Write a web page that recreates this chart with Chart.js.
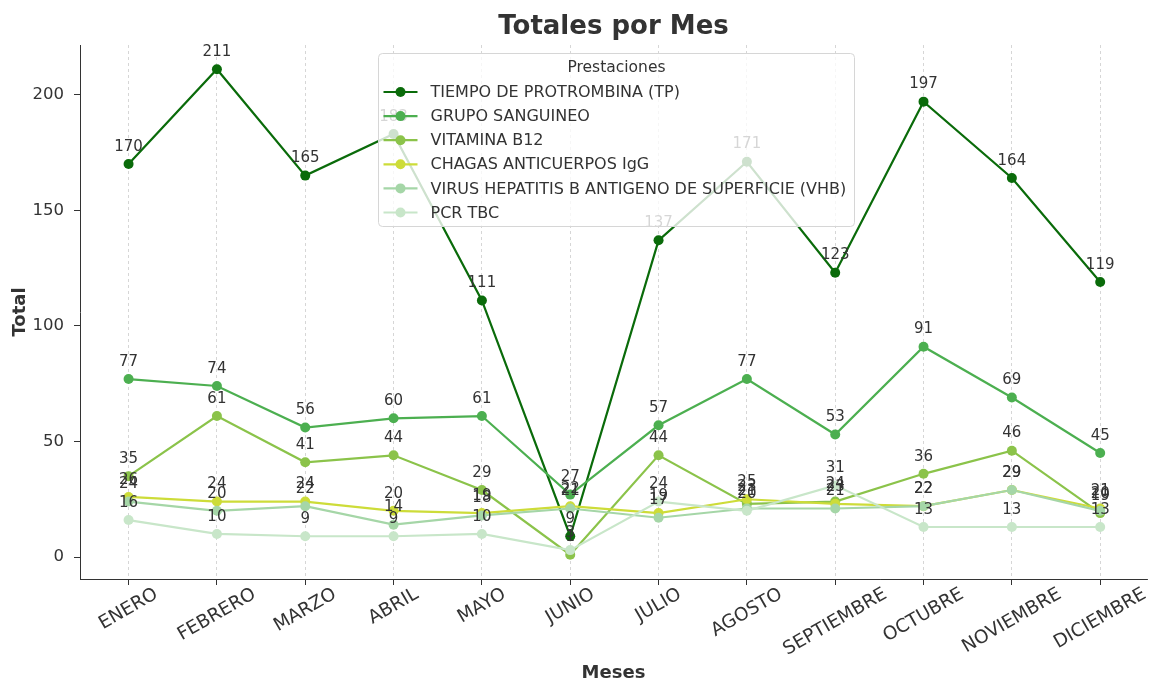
<!DOCTYPE html>
<html>
<head>
<meta charset="utf-8">
<script src="https://cdn.jsdelivr.net/npm/chart.js@4.4.1/dist/chart.umd.min.js"></script>
<style>
  html, body { margin: 0; padding: 0; background: #ffffff; }
  #wrap { width: 1152px; height: 684px; }
</style>
</head>
<body>
<div id="wrap"><canvas id="chart" width="1152" height="684"></canvas></div>
<script>
// Monthly totals per lab test
const meses = ['ENERO', 'FEBRERO', 'MARZO', 'ABRIL', 'MAYO', 'JUNIO', 'JULIO',
               'AGOSTO', 'SEPTIEMBRE', 'OCTUBRE', 'NOVIEMBRE', 'DICIEMBRE'];
const tiempoProtrombina = [170, 211, 165, 183, 111, 9, 137, 171, 123, 197, 164, 119];
const grupoSanguineo    = [77, 74, 56, 60, 61, 27, 57, 77, 53, 91, 69, 45];
const vitaminaB12       = [35, 61, 41, 44, 29, 1, 44, 23, 24, 36, 46, 19];
const chagasIgG         = [26, 24, 24, 20, 19, 22, 19, 25, 23, 22, 29, 21];
const hepatitisB        = [24, 20, 22, 14, 18, 21, 17, 21, 21, 22, 29, 20];
const pcrTbc            = [16, 10, 9, 9, 10, 3, 24, 20, 31, 13, 13, 13];
const yTicks = [0, 50, 100, 150, 200];

const seriesNames = ['TIEMPO DE PROTROMBINA (TP)', 'GRUPO SANGUINEO', 'VITAMINA B12',
                     'CHAGAS ANTICUERPOS IgG', 'VIRUS HEPATITIS B ANTIGENO DE SUPERFICIE (VHB)', 'PCR TBC'];
const seriesValues = [tiempoProtrombina, grupoSanguineo, vitaminaB12, chagasIgG, hepatitisB, pcrTbc];
const seriesColors = ['#0a6b0a', '#4caf50', '#8bc34a', '#cddc39', '#a5d6a7', '#c8e6c9'];

const FONT = 'DejaVu Sans';
const TEXT = '#333333';

// Title over the plot, value labels, rotated month labels and the legend box on top
const overlay = {
  id: 'overlay',
  afterDatasetsDraw(chart) {
    const ctx = chart.ctx;
    const area = chart.chartArea;
    const cx = (area.left + area.right) / 2;

    ctx.save();
    ctx.font = 'bold 26px "' + FONT + '"';
    ctx.fillStyle = TEXT;
    ctx.textAlign = 'center';
    ctx.textBaseline = 'middle';
    ctx.fillText('Totales por Mes', cx, 27);
    ctx.restore();

    ctx.save();
    ctx.font = '15px "' + FONT + '"';
    ctx.fillStyle = TEXT;
    ctx.textAlign = 'center';
    ctx.textBaseline = 'alphabetic';
    seriesValues.forEach((vals, i) => {
      const meta = chart.getDatasetMeta(i);
      meta.data.forEach((pt, j) => {
        ctx.fillText(String(vals[j]), pt.x, pt.y - 13.3);
      });
    });
    ctx.restore();

    // rotated month labels, centred under each tick
    const xs = chart.scales.x;
    ctx.save();
    ctx.font = '18.5px "' + FONT + '"';
    ctx.fillStyle = TEXT;
    ctx.textAlign = 'center';
    ctx.textBaseline = 'middle';
    const ang = Math.PI / 6;
    const h = 16;
    meses.forEach((m, i) => {
      const w = ctx.measureText(m).width;
      const boxH = w * Math.sin(ang) + h * Math.cos(ang);
      const top = xs.top + 7;
      ctx.save();
      ctx.translate(xs.getPixelForValue(i), top + boxH / 2);
      ctx.rotate(-ang);
      ctx.fillText(m, 0, 0);
      ctx.restore();
    });
    ctx.restore();

    // legend
    ctx.save();
    const boxW = 476;
    const boxH = 173;
    const bx = Math.round(cx - 236) + 0.5;
    const by = area.top + 8.5;
    const r = 4;
    ctx.beginPath();
    ctx.moveTo(bx + r, by);
    ctx.lineTo(bx + boxW - r, by);
    ctx.quadraticCurveTo(bx + boxW, by, bx + boxW, by + r);
    ctx.lineTo(bx + boxW, by + boxH - r);
    ctx.quadraticCurveTo(bx + boxW, by + boxH, bx + boxW - r, by + boxH);
    ctx.lineTo(bx + r, by + boxH);
    ctx.quadraticCurveTo(bx, by + boxH, bx, by + boxH - r);
    ctx.lineTo(bx, by + r);
    ctx.quadraticCurveTo(bx, by, bx + r, by);
    ctx.closePath();
    ctx.fillStyle = 'rgba(255,255,255,0.8)';
    ctx.fill();
    ctx.strokeStyle = '#d6d6d6';
    ctx.lineWidth = 1;
    ctx.stroke();

    ctx.fillStyle = TEXT;
    ctx.textBaseline = 'middle';
    ctx.textAlign = 'center';
    ctx.font = '15.5px "' + FONT + '"';
    ctx.fillText('Prestaciones', bx + boxW / 2, by + 14);
    ctx.textAlign = 'left';
    ctx.font = '16px "' + FONT + '"';
    seriesNames.forEach((n, i) => {
      const yy = by + 38.5 + i * 24.1;
      const x0 = bx + 5;
      ctx.strokeStyle = seriesColors[i];
      ctx.lineWidth = 2.2;
      ctx.beginPath();
      ctx.moveTo(x0, yy);
      ctx.lineTo(x0 + 34, yy);
      ctx.stroke();
      ctx.fillStyle = seriesColors[i];
      ctx.beginPath();
      ctx.arc(x0 + 17, yy, 5, 0, Math.PI * 2);
      ctx.fill();
      ctx.fillStyle = TEXT;
      ctx.fillText(n, x0 + 47, yy + 1);
    });
    ctx.restore();
  }
};

new Chart(document.getElementById('chart'), {
  type: 'line',
  data: {
    datasets: seriesNames.map((name, i) => ({
      label: name,
      data: seriesValues[i].map((v, j) => ({ x: j, y: v })),
      borderColor: seriesColors[i],
      backgroundColor: seriesColors[i],
      borderWidth: 2.2,
      pointRadius: 5,
      pointHoverRadius: 5,
      pointBorderWidth: 0,
      tension: 0,
      order: seriesNames.length - i
    }))
  },
  options: {
    responsive: false,
    animation: false,
    devicePixelRatio: 1,
    layout: { padding: { top: 45, left: 0, right: 0, bottom: 0 } },
    font: { family: FONT },
    plugins: {
      legend: { display: false },
      tooltip: { enabled: false },
      title: { display: false }
    },
    scales: {
      x: {
        type: 'linear',
        min: -0.55,
        max: 11.53,
        afterBuildTicks: s => { s.ticks = meses.map((m, i) => ({ value: i })); },
        afterFit: s => { s.height = 105; },
        ticks: { display: false },
        grid: {
          color: '#cccccc', lineWidth: 0.8,
          drawTicks: true, tickLength: 6, tickColor: TEXT, tickWidth: 1, tickBorderDash: []
        },
        border: { display: true, color: TEXT, width: 1, dash: [3, 3] },
        title: {
          display: true, text: 'Meses', color: TEXT,
          font: { family: FONT, size: 18, weight: 'bold' },
          padding: { top: 0, bottom: 0 }
        }
      },
      y: {
        type: 'linear',
        min: -9.5,
        max: 221.5,
        afterBuildTicks: s => { s.ticks = yTicks.map(v => ({ value: v })); },
        afterFit: s => { s.width = 80; },
        ticks: { color: TEXT, font: { family: FONT, size: 16.5 }, padding: 10 },
        grid: { drawOnChartArea: false, drawTicks: true, tickLength: 6, color: TEXT },
        border: { display: true, color: TEXT, width: 1 },
        title: {
          display: true, text: 'Total', color: TEXT,
          font: { family: FONT, size: 18, weight: 'bold' },
          padding: { top: 10, bottom: 0 }
        }
      }
    }
  },
  plugins: [overlay]
});
</script>
</body>
</html>
